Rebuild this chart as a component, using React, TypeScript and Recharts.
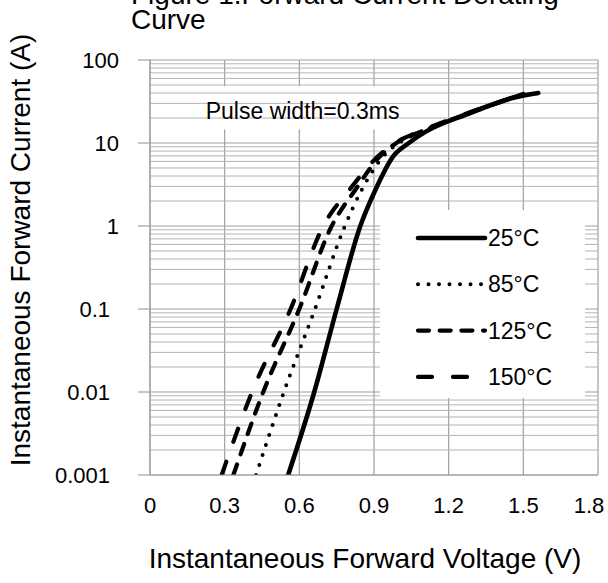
import React from "react";
import {
  CartesianGrid,
  Label,
  Legend,
  Line,
  LineChart,
  ReferenceArea,
  ReferenceLine,
  XAxis,
  YAxis
} from "recharts";

const FONT = '"Liberation Sans", Arial, sans-serif';

const X_TICKS = [0, 0.3, 0.6, 0.9, 1.2, 1.5, 1.8];
const Y_TICKS = [0.001, 0.01, 0.1, 1, 10, 100];
const MINOR_STEPS = [2, 3, 4, 5, 6, 7, 8, 9];

// forward voltage (V) / current (A)
const V_25C = [0.555, 0.66, 0.75, 0.845, 0.905, 0.977, 1.04, 1.11, 1.27, 1.46, 1.56];
const I_25C = [0.001, 0.01, 0.1, 1, 2.7, 6.9, 10, 13.8, 22, 35, 40];
const V_85C = [0.426, 0.538, 0.663, 0.783, 0.85, 0.937, 1.0, 1.095, 1.27, 1.46, 1.5];
const I_85C = [0.001, 0.01, 0.1, 1, 2.7, 6.9, 10, 13.8, 22, 35, 38];
const V_125C = [0.335, 0.455, 0.6, 0.73, 0.824, 0.924, 0.99, 1.09, 1.265, 1.455, 1.5];
const I_125C = [0.001, 0.01, 0.1, 1, 2.7, 6.9, 10, 13.8, 22, 35, 39];
const V_150C = [0.288, 0.41, 0.565, 0.696, 0.8, 0.916, 0.985, 1.085, 1.26, 1.45, 1.5];
const I_150C = [0.001, 0.01, 0.1, 1, 2.7, 6.9, 10, 13.8, 22, 35, 40];

const SERIES_NAMES = ["25°C", "85°C", "125°C", "150°C"];

const zip = (v: number[], i: number[]) => v.map((x, k) => ({ v: x, i: i[k] }));

const SERIES = [
  { name: SERIES_NAMES[0], data: zip(V_25C, I_25C), dash: undefined, width: 4.6 },
  { name: SERIES_NAMES[1], data: zip(V_85C, I_85C), dash: "0 10.5", width: 4 },
  { name: SERIES_NAMES[2], data: zip(V_125C, I_125C), dash: "11 10.7", width: 4.2 },
  { name: SERIES_NAMES[3], data: zip(V_150C, I_150C), dash: "14 21", width: 4.2 }
];

const Y_MINOR = Y_TICKS.slice(0, -1).flatMap((d) =>
  MINOR_STEPS.map((m) => Number((d * m).toPrecision(3)))
);

const GRID = "#a0a0a0";
const GRID_MINOR = "#b4b4b4";

function LegendBox() {
  return (
    <svg width={205} height={188} style={{ display: "block", background: "#fff" }}>
      {SERIES.map((s, idx) => {
        const y = 28 + idx * 46.3;
        return (
          <g key={s.name}>
            <line
              x1={38}
              x2={105}
              y1={y}
              y2={y}
              stroke="#000"
              strokeWidth={s.width}
              strokeDasharray={s.dash}
              strokeLinecap="round"
            />
            <text x={108} y={y + 8} fontSize={23} fontFamily={FONT} fill="#000">
              {s.name}
            </text>
          </g>
        );
      })}
    </svg>
  );
}

function YTick({ x, y, payload }: any) {
  const shift = payload.value < 1 ? -9 : 0;
  return (
    <text
      x={x + shift}
      y={y}
      dy="0.355em"
      textAnchor="end"
      fontSize={22}
      fontFamily={FONT}
      fill="#000"
    >
      {String(payload.value)}
    </text>
  );
}

function XTick({ x, y, payload }: any) {
  // last label is pulled inside the frame, as in the original
  const last = payload.value === X_TICKS[X_TICKS.length - 1];
  return (
    <text
      x={x + (last ? -9 : 0)}
      y={y}
      dy="0.71em"
      textAnchor="middle"
      fontSize={22}
      fontFamily={FONT}
      fill="#000"
    >
      {String(payload.value)}
    </text>
  );
}

export default function App() {
  return (
    <div
      style={{
        position: "absolute",
        left: 0,
        top: 0,
        width: 608,
        height: 583,
        background: "#fff",
        overflow: "hidden",
        fontFamily: FONT
      }}
    >
      <LineChart
        width={608}
        height={583}
        margin={{ top: 60, right: 10, bottom: 68, left: 0 }}
        style={{ fontFamily: FONT }}
      >
        <CartesianGrid stroke={GRID} strokeWidth={1.2} />
        {Y_MINOR.map((y) => (
          <ReferenceLine key={y} y={y} stroke={GRID_MINOR} strokeWidth={1} />
        ))}
        <XAxis
          dataKey="v"
          type="number"
          domain={[0, 1.8]}
          ticks={X_TICKS}
          allowDataOverflow
          height={40}
          axisLine={{ stroke: GRID, strokeWidth: 1.2 }}
          tickLine={false}
          tickMargin={16}
          tick={<XTick />}
        >
          <Label
            content={({ viewBox }: any) => (
              <text
                x={viewBox.x + viewBox.width / 2 - 9}
                y={viewBox.y + viewBox.height + 53}
                textAnchor="middle"
                fontSize={28}
                fontFamily={FONT}
                fill="#000"
              >
                Instantaneous Forward Voltage (V)
              </text>
            )}
          />
        </XAxis>
        <YAxis
          type="number"
          scale="log"
          domain={[0.001, 100]}
          ticks={Y_TICKS}
          allowDataOverflow
          width={150}
          axisLine={{ stroke: GRID, strokeWidth: 1.2 }}
          tickLine={{ stroke: GRID, strokeWidth: 1.2 }}
          tickSize={12}
          tickMargin={19}
          tick={<YTick />}
        >
          <Label
            content={({ viewBox }: any) => (
              <text
                x={viewBox.x + 30}
                y={250}
                transform={`rotate(-90, ${viewBox.x + 30}, 250)`}
                textAnchor="middle"
                fontSize={28}
                fontFamily={FONT}
                fill="#000"
              >
                Instantaneous Forward Current (A)
              </text>
            )}
          />
        </YAxis>
        <ReferenceArea
          x1={0.145}
          x2={1.097}
          y1={14.5}
          y2={48.3}
          fill="#fff"
          fillOpacity={1}
          stroke="none"
          label={{
            value: "Pulse width=0.3ms",
            position: "center",
            fontSize: 23,
            fill: "#000",
            dy: 3,
            dx: -2
          }}
        />
        <Legend
          layout="horizontal"
          verticalAlign="middle"
          align="center"
          wrapperStyle={{ position: "absolute", left: 380, top: 210, width: 205, height: 188 }}
          content={() => <LegendBox />}
        />
        {SERIES.map((s) => (
          <Line
            key={s.name}
            name={s.name}
            data={s.data}
            dataKey="i"
            type="monotone"
            stroke="#000"
            strokeWidth={s.width}
            strokeDasharray={s.dash}
            strokeLinecap="round"
            dot={false}
            activeDot={false}
            isAnimationActive={false}
          />
        ))}
      </LineChart>
      <div
        style={{
          position: "absolute",
          left: 131,
          top: -18,
          fontSize: 28,
          lineHeight: "25px",
          color: "#000",
          whiteSpace: "nowrap"
        }}
      >
        Figure 1.Forward Current Derating
        <br />
        Curve
      </div>
    </div>
  );
}
